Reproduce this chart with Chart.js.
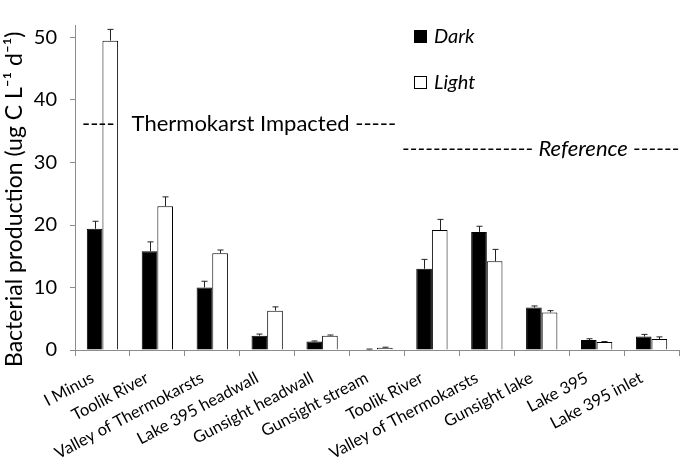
<!DOCTYPE html>
<html lang="en">
<head>
    <meta charset="UTF-8">
    <title>Bacterial production</title>
    <script src="https://cdn.jsdelivr.net/npm/chart.js@4.4.1/dist/chart.umd.min.js"></script>
    <style>
        body {
            margin: 0;
            background-color: #fff;
        }
        .chart-box {
            width: 680px;
            height: 467px;
        }
    </style>
</head>
<body>
    <div class="chart-box">
        <canvas id="myChart"></canvas>
    </div>

    <script>
        // sites along the x axis
        const sites = [
            'I Minus', 'Toolik River', 'Valley of Thermokarsts', 'Lake 395 headwall',
            'Gunsight headwall', 'Gunsight stream', 'Toolik River', 'Valley of Thermokarsts',
            'Gunsight lake', 'Lake 395', 'Lake 395 inlet'
        ];
        // production in the dark and in the light (ug C L-1 d-1)
        const darkValues  = [19.4, 15.8, 10.0, 2.3, 1.35, 0.1, 13.0, 18.9, 6.8, 1.6, 2.15];
        const lightValues = [49.5, 23.0, 15.5, 6.3, 2.3, 0.35, 19.2, 14.2, 6.0, 1.3, 1.75];
        // standard errors (top whisker only)
        const darkErrors  = [1.2, 1.5, 1.0, 0.25, 0.1, 0.05, 1.5, 0.9, 0.25, 0.2, 0.35];
        const lightErrors = [1.8, 1.5, 0.5, 0.6, 0.1, 0.1, 1.7, 1.9, 0.3, 0.05, 0.35];
        const yTicks = [0, 10, 20, 30, 40, 50];

        const fontFamily = 'Lato, "Open Sans", sans-serif';
        const axisGrey = '#8c8c8c';

        // whiskers on top of each bar
        const errorBars = {
            id: 'errorBars',
            afterDatasetsDraw(chart) {
                const ctx = chart.ctx;
                const y = chart.scales.y;
                ctx.save();
                ctx.strokeStyle = '#222';
                ctx.lineWidth = 1;
                chart.data.datasets.forEach((ds, i) => {
                    const meta = chart.getDatasetMeta(i);
                    meta.data.forEach((bar, j) => {
                        const x = Math.round(bar.x) + 0.5;
                        const top = y.getPixelForValue(ds.data[j] + ds.errors[j]);
                        ctx.beginPath();
                        ctx.moveTo(x, bar.y);
                        ctx.lineTo(x, top);
                        ctx.moveTo(x - 3, top);
                        ctx.lineTo(x + 3, top);
                        ctx.stroke();
                    });
                });
                ctx.restore();
            }
        };

        // legend and group notes
        const notes = {
            id: 'notes',
            afterDraw(chart) {
                const ctx = chart.ctx;
                ctx.save();
                ctx.textBaseline = 'middle';
                ctx.fillStyle = '#000';

                chart.data.datasets.forEach((ds, i) => {
                    const top = 30 + i * 46;
                    ctx.fillStyle = ds.backgroundColor;
                    ctx.fillRect(414, top, 13, 13);
                    ctx.strokeStyle = '#000';
                    ctx.lineWidth = 1;
                    ctx.strokeRect(414.5, top + 0.5, 12, 12);
                    ctx.fillStyle = '#000';
                    ctx.font = 'italic 20px ' + fontFamily;
                    ctx.fillText(ds.label, 434, top + 7);
                });

                ctx.font = '22px ' + fontFamily;
                ctx.fillText('----   Thermokarst Impacted -----', 82, 124);
                ctx.font = 'italic 22px ' + fontFamily;
                ctx.fillText('----------------- Reference ------', 402, 149);
                ctx.restore();
            }
        };

        const ctx = document.getElementById('myChart').getContext('2d');
        new Chart(ctx, {
            type: 'bar',
            data: {
                labels: sites,
                datasets: [
                    {
                        label: 'Dark',
                        data: darkValues,
                        errors: darkErrors,
                        backgroundColor: '#000',
                        borderColor: '#000',
                        borderWidth: 1
                    },
                    {
                        label: 'Light',
                        data: lightValues,
                        errors: lightErrors,
                        backgroundColor: '#fff',
                        borderColor: '#000',
                        borderWidth: 1
                    }
                ]
            },
            options: {
                responsive: true,
                maintainAspectRatio: false,
                animation: false,
                categoryPercentage: 0.57,
                barPercentage: 1.0,
                layout: {
                    padding: { top: 2, right: 1, left: 0, bottom: 0 }
                },
                plugins: {
                    legend: { display: false },
                    tooltip: { enabled: false }
                },
                scales: {
                    x: {
                        afterFit: scale => { scale.height = 117; },
                        border: { color: axisGrey, width: 1 },
                        grid: {
                            offset: true,
                            drawOnChartArea: false,
                            color: axisGrey,
                            tickLength: 6
                        },
                        ticks: {
                            minRotation: 28,
                            maxRotation: 28,
                            autoSkip: false,
                            padding: 12,
                            labelOffset: -10,
                            color: '#000',
                            font: { family: fontFamily, size: 16.5 }
                        }
                    },
                    y: {
                        min: 0,
                        max: 52,
                        afterFit: scale => { scale.width = 75; },
                        afterBuildTicks: axis => {
                            axis.ticks = yTicks.map(v => ({ value: v }));
                        },
                        border: { color: axisGrey, width: 1 },
                        grid: {
                            drawOnChartArea: false,
                            color: axisGrey,
                            tickLength: 5
                        },
                        ticks: {
                            padding: 13,
                            color: '#000',
                            font: { family: fontFamily, size: 20 }
                        },
                        title: {
                            display: true,
                            text: 'Bacterial production (ug C L\u207B\u00B9 d\u207B\u00B9)\u00A0\u00A0\u00A0\u00A0',
                            color: '#000',
                            font: { family: fontFamily, size: 23 },
                            padding: { top: 1, bottom: 4 }
                        }
                    }
                }
            },
            plugins: [errorBars, notes]
        });
    </script>
</body>
</html>
